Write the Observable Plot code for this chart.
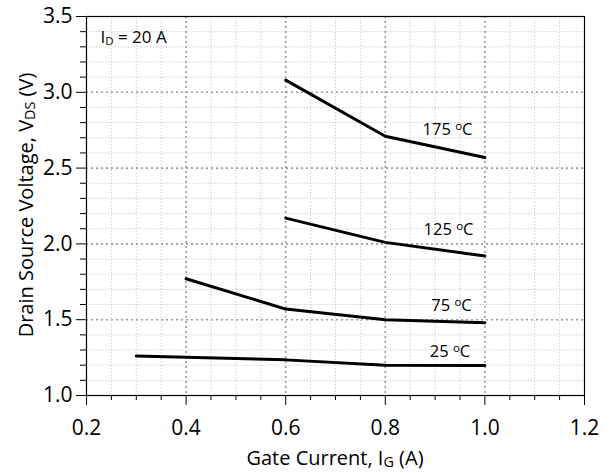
<!DOCTYPE html>
<html>
<head>
<meta charset="utf-8">
<script src="https://cdn.jsdelivr.net/npm/d3@7"></script>
<script src="https://cdn.jsdelivr.net/npm/@observablehq/plot@0.6"></script>
<style>
  html, body { margin: 0; padding: 0; background: #fff; }
  #chart { width: 614px; height: 473px; }
</style>
</head>
<body>
<div id="chart"></div>
<script>
// ---- data ----
const series = ["25 ^{o}C", "75 ^{o}C", "125 ^{o}C", "175 ^{o}C"];
const gate25 = [0.3, 0.6, 0.8, 1.0];
const vds25 = [1.26, 1.235, 1.20, 1.198];
const gate75 = [0.4, 0.6, 0.8, 1.0];
const vds75 = [1.77, 1.57, 1.50, 1.48];
const gate125 = [0.6, 0.8, 1.0];
const vds125 = [2.17, 2.01, 1.92];
const gate175 = [0.6, 0.8, 1.0];
const vds175 = [3.08, 2.71, 2.57];
const labelX = [0.930, 0.933, 0.927, 0.925];
const labelY = [1.29, 1.594, 2.095, 2.755];

const xMajor = [0.2, 0.4, 0.6, 0.8, 1.0, 1.2];
const xMinor = [0.25, 0.3, 0.35, 0.45, 0.5, 0.55, 0.65, 0.7, 0.75, 0.85, 0.9, 0.95, 1.05, 1.1, 1.15];
const yMajor = [1.0, 1.5, 2.0, 2.5, 3.0, 3.5];
const yMinor = [1.1, 1.2, 1.3, 1.4, 1.6, 1.7, 1.8, 1.9, 2.1, 2.2, 2.3, 2.4, 2.6, 2.7, 2.8, 2.9, 3.1, 3.2, 3.3, 3.4];

const xLabel = "Gate Current, I_{G} (A)";
const yLabel = "Drain Source Voltage, V_{DS} (V)";
const note = ["I_{D} = 20 A"];
const noteX = [0.228];
const noteY = [3.36];

// ---- build rows ----
const rows = [];
[[gate25, vds25, series[0]], [gate75, vds75, series[1]], [gate125, vds125, series[2]], [gate175, vds175, series[3]]]
  .forEach(([xs, ys, s]) => xs.forEach((x, i) => rows.push({x, y: ys[i], s})));
const labels = series.map((s, i) => ({x: labelX[i], y: labelY[i], s}));
const notes = note.map((t, i) => ({x: noteX[i], y: noteY[i], t}));

const FONT = "'Open Sans', sans-serif";

const chart = Plot.plot({
  width: 614,
  height: 473,
  marginLeft: 86,
  marginRight: 30,
  marginTop: 16,
  marginBottom: 78,
  x: {domain: [0.2, 1.2]},
  y: {domain: [1.0, 3.5]},
  style: {fontFamily: FONT, fontSize: "21px", color: "#000", background: "#fff"},
  marks: [
    Plot.ruleX(xMinor, {stroke: "#c4c4c4", strokeDasharray: "1.2,2"}),
    Plot.ruleY(yMinor, {stroke: "#c4c4c4", strokeDasharray: "1.2,2"}),
    Plot.ruleX(xMajor.slice(1, -1), {stroke: "#9a9a9a", strokeWidth: 1.6, strokeDasharray: "2,3"}),
    Plot.ruleY(yMajor.slice(1, -1), {stroke: "#9a9a9a", strokeWidth: 1.6, strokeDasharray: "2,3"}),
    Plot.line(rows, {x: "x", y: "y", z: "s", stroke: "#000", strokeWidth: 3}),
    Plot.text(labels, {x: "x", y: "y", text: "s", fontSize: 16.5, fill: "#000"}),
    Plot.text(notes, {x: "x", y: "y", text: "t", textAnchor: "start", fontSize: 17, fill: "#000"}),
    Plot.frame({stroke: "#000", strokeWidth: 1.2}),
    Plot.axisX(xMajor, {tickSize: 10, tickPadding: 15, tickFormat: ".1f", label: null}),
    Plot.axisX(xMinor, {tickSize: 5, tickFormat: () => "", label: null}),
    Plot.axisY(yMajor, {tickSize: 10, tickPadding: 4, tickFormat: ".1f", label: null}),
    Plot.axisY(yMinor, {tickSize: 6, tickFormat: () => "", label: null})
  ]
});

const svg = d3.select(chart);

// axis titles
svg.append("text")
  .attr("x", 335).attr("y", 465)
  .attr("text-anchor", "middle").attr("font-size", 20).attr("font-family", FONT).attr("fill", "#000")
  .text(xLabel);
svg.append("text")
  .attr("transform", "translate(33,205) rotate(-90)")
  .attr("text-anchor", "middle").attr("font-size", 20).attr("font-family", FONT).attr("fill", "#000")
  .text(yLabel);

// rich-text post-processing: _{x} subscript, ^{x} superscript
chart.querySelectorAll("text").forEach(t => {
  const s = t.textContent;
  if (!/[_^]\{/.test(s)) return;
  const parts = s.split(/([_^]\{[^}]*\})/).filter(p => p !== "");
  t.textContent = "";
  const fs = parseFloat(t.getAttribute("font-size") || getComputedStyle(t).fontSize) || 16;
  parts.forEach(p => {
    const ts = document.createElementNS("http://www.w3.org/2000/svg", "tspan");
    const m = p.match(/^([_^])\{([^}]*)\}$/);
    if (m) {
      ts.textContent = m[2];
      ts.setAttribute("font-size", (fs * 0.72).toFixed(1));
      ts.setAttribute("baseline-shift", m[1] === "_" ? "-14%" : "38%");
    } else {
      ts.textContent = p;
    }
    t.appendChild(ts);
  });
});

document.getElementById("chart").appendChild(chart);
</script>
</body>
</html>
